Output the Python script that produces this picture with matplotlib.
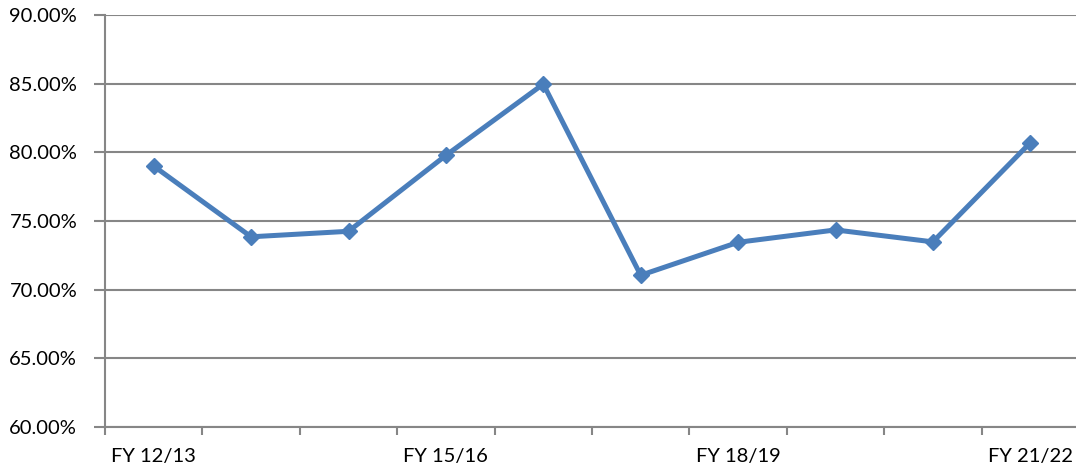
import numpy as np
import matplotlib.pyplot as plt
from matplotlib.ticker import FixedLocator, FuncFormatter

plt.rcParams['font.family'] = ['Lato', 'DejaVu Sans']

# data
years = ['FY 12/13', 'FY 13/14', 'FY 14/15', 'FY 15/16', 'FY 16/17',
         'FY 17/18', 'FY 18/19', 'FY 19/20', 'FY 20/21', 'FY 21/22']
rate = [79.0, 73.85, 74.25, 79.78, 84.97, 71.05, 73.45, 74.35, 73.48, 80.7]
shown = ['FY 12/13', 'FY 15/16', 'FY 18/19', 'FY 21/22']
y_ticks = [60, 65, 70, 75, 80, 85, 90]

grey = '#868686'
blue = '#4a7ebb'

fig = plt.figure(figsize=(10.76, 4.71), dpi=100)
ax = fig.add_axes([105/1076, 44/471, 974/1076, 412/471])

x = np.arange(len(years))
ax.plot(x, rate, color=blue, lw=3.6, marker='D', markersize=8.5,
        markerfacecolor=blue, markeredgecolor=blue, zorder=5,
        solid_joinstyle='miter')

ax.set_xlim(-0.5, len(years) - 0.5)
ax.set_ylim(y_ticks[0], y_ticks[-1])

# y axis: gridlines + percent labels
ax.set_yticks(y_ticks)
ax.yaxis.set_major_formatter(FuncFormatter(lambda v, p: f'{v:.2f}%'))
ax.grid(axis='y', color=grey, lw=1.5)
ax.tick_params(axis='y', length=8, width=1.5, color=grey, pad=12,
               labelsize=14.5, labelcolor='black')

# x axis: ticks between categories, labels on every third category
ax.xaxis.set_major_locator(FixedLocator(np.arange(-0.5, len(years), 1.0)))
ax.xaxis.set_major_formatter(FuncFormatter(lambda v, p: ''))
ax.xaxis.set_minor_locator(FixedLocator([years.index(s) for s in shown]))
ax.set_xticklabels(shown, minor=True)
ax.tick_params(axis='x', which='major', length=6, width=1.5, color=grey)
ax.tick_params(axis='x', which='minor', length=0, pad=15, labelsize=14.5)

for side in ['top', 'right']:
    ax.spines[side].set_visible(False)
for side in ['left', 'bottom']:
    ax.spines[side].set_color(grey)
    ax.spines[side].set_linewidth(1.5)

plt.savefig('out.png', dpi=100)
